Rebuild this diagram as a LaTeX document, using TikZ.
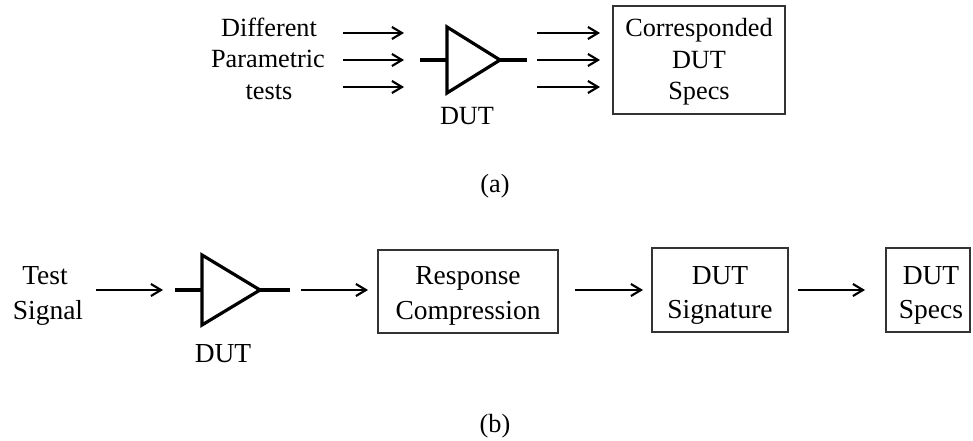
\documentclass[tikz,border=0pt]{standalone}
\usepackage{fontspec}
\setmainfont{Liberation Serif}
\usetikzlibrary{arrows.meta}
\begin{document}
\begin{tikzpicture}[x=0.75pt,y=-0.75pt,
  txa/.style={font=\fontsize{19.7}{24}\selectfont, inner sep=0pt, anchor=base},
  txb/.style={font=\fontsize{20.6}{25}\selectfont, inner sep=0pt, anchor=base},
  arr/.style={line width=1.6pt, -{Straight Barb[length=7.5pt,width=9pt,line width=1.6pt]}},
  amp/.style={line width=2.4pt, line join=miter},
  blk/.style={draw=black!80, line width=1.1pt, inner sep=0pt}]
\useasboundingbox (0,0) rectangle (973,441);

% ---------- (a) parametric testing ----------
\node[txa] (ta1) at (269,37) {Different};
\node[txa] (ta2) at (268,68) {Parametric};
\node[txa] (ta3) at (269,100) {tests};

\foreach \i/\y in {1/33,2/60,3/87}{
  \coordinate (ia\i) at (343,\y);
  \coordinate (ja\i) at (404,\y);
  \draw[arr] (ia\i) -- (ja\i);
  \coordinate (ka\i) at (537,\y);
  \coordinate (la\i) at (600,\y);
  \draw[arr] (ka\i) -- (la\i);
}

% amplifier symbol (DUT)
\coordinate (ainA) at (420,60);
\coordinate (atlA) at (447,27);
\coordinate (ablA) at (447,93);
\coordinate (aapA) at (500,60);
\coordinate (aoutA) at (527,60);
\draw[amp] (ainA) -- (447,60);
\draw[amp] (atlA) -- (aapA) -- (ablA) -- cycle;
\draw[amp] (aapA) -- (aoutA);
\node[txa] (dutA) at (467,125) {DUT};

\node[blk, minimum width=129pt, minimum height=81pt] (specA) at (699,60) {};
\node[txa] (sa1) at (699,37) {Corresponded};
\node[txa] (sa2) at (699,69) {DUT};
\node[txa] (sa3) at (699,100) {Specs};

\node[txa] (capA) at (495,193) {(a)};

% ---------- (b) signature-based testing ----------
\node[txb] (tb1) at (45,285) {Test};
\node[txb] (tb2) at (48,320) {Signal};

\coordinate (b1s) at (96,290);
\coordinate (b1e) at (163,290);
\draw[arr] (b1s) -- (b1e);

\coordinate (ainB) at (175,290);
\coordinate (atlB) at (202,255);
\coordinate (ablB) at (202,325);
\coordinate (aapB) at (260,290);
\coordinate (aoutB) at (290,290);
\draw[amp] (ainB) -- (202,290);
\draw[amp] (atlB) -- (aapB) -- (ablB) -- cycle;
\draw[amp] (aapB) -- (aoutB);
\node[txb] (dutB) at (223,362) {DUT};

\coordinate (b2s) at (301,290);
\coordinate (b2e) at (368,290);
\draw[arr] (b2s) -- (b2e);

\node[blk, minimum width=135pt, minimum height=62.25pt] (resp) at (468,291.5) {};
\node[txb] (rb1) at (468,285) {Response};
\node[txb] (rb2) at (468,320) {Compression};

\coordinate (b3s) at (575,290);
\coordinate (b3e) at (643,290);
\draw[arr] (b3s) -- (b3e);

\node[blk, minimum width=102pt, minimum height=63pt] (sig) at (720,290) {};
\node[txb] (sb1) at (720,285) {DUT};
\node[txb] (sb2) at (720,318) {Signature};

\coordinate (b4s) at (798,290);
\coordinate (b4e) at (865,290);
\draw[arr] (b4s) -- (b4e);

\node[blk, minimum width=63pt, minimum height=63pt] (specB) at (928,290) {};
\node[txb] (pb1) at (931,285) {DUT};
\node[txb] (pb2) at (931,318) {Specs};

\node[txa] (capB) at (495,432) {(b)};
\end{tikzpicture}
\end{document}
